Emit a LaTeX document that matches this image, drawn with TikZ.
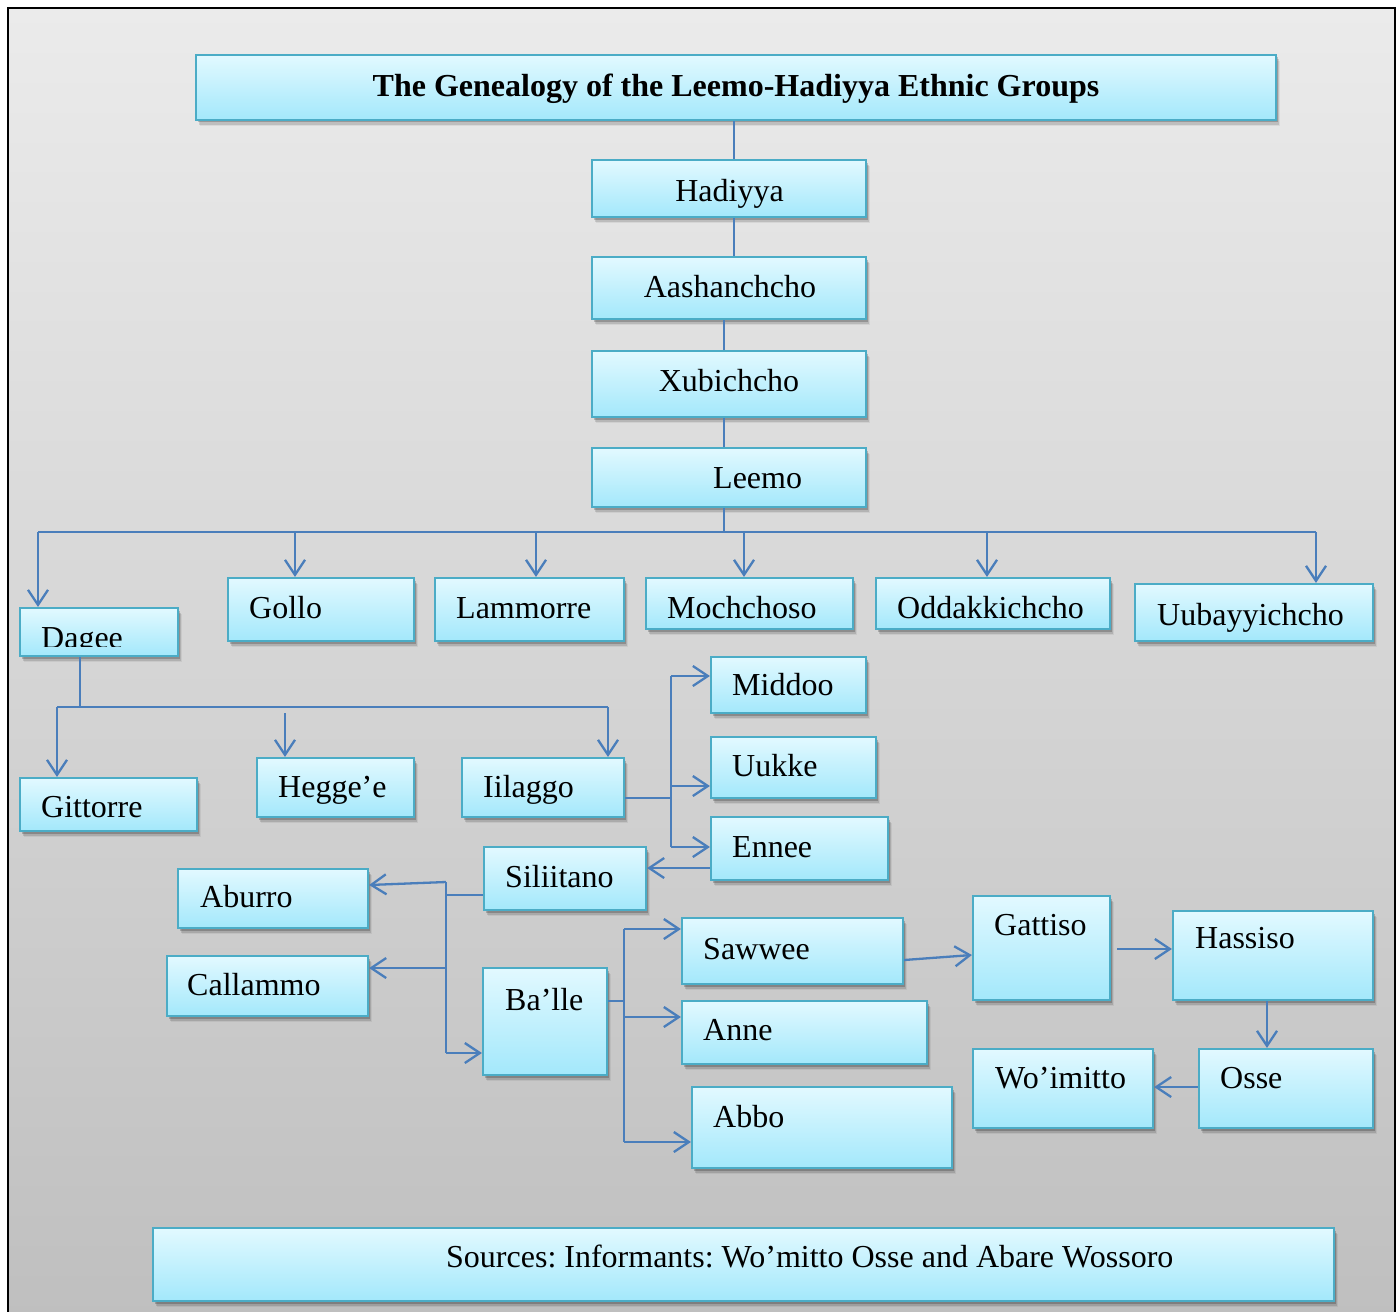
\documentclass[tikz,border=0pt]{standalone}
\usepackage{fontspec}
\setmainfont{Liberation Serif}
\usetikzlibrary{arrows.meta,shadows,fit}
\definecolor{bgtop}{HTML}{EBEBEB}
\definecolor{bgbot}{HTML}{BFBFBF}
\definecolor{boxtop}{HTML}{E2F9FF}
\definecolor{boxbot}{HTML}{A3E8FB}
\definecolor{boxline}{HTML}{4BACC6}
\definecolor{conn}{HTML}{4A7EBB}
\tikzset{
  box/.style={draw=boxline, line width=2.2pt, top color=boxtop, bottom color=boxbot, inner sep=0pt,
    drop shadow={shadow xshift=1.5pt, shadow yshift=-2.5pt, opacity=0.2, fill=black},
    drop shadow={shadow xshift=3pt, shadow yshift=-4.5pt, opacity=0.12, fill=black},
    drop shadow={shadow xshift=4pt, shadow yshift=-6pt, opacity=0.06, fill=black}},
  lbl/.style={inner sep=0pt, anchor=base west, font=\fontsize{32}{38}\selectfont},
  plain/.style={draw=conn, line width=1.7pt},
  arr/.style={draw=conn, line width=2.3pt, -{Straight Barb[length=15pt,width=20pt]}},
}
\newcommand\mybox[8]{%
  \node[box, fit={(#2,#3) (#4,#5)}] (#1) {};
  \node[lbl] (#1t) at (#6,#7) {#8};}
\begin{document}
\frenchspacing
\begin{tikzpicture}[x=1pt,y=-1pt]
\useasboundingbox (0,0) rectangle (1396,1311);
\clip (0,0) rectangle (1396,1311);
% background frame
\fill[top color=bgtop, bottom color=bgbot] (8,8) rectangle (1395,1320);
\draw[black, line width=2pt] (8,8) rectangle (1395,1320);

% title
\node[box, fit={(196,55) (1276,120)}] (title) {};
\node[lbl, anchor=base, font=\fontsize{32}{38}\selectfont\bfseries] (titlet) at (736,97) {The Genealogy of the Leemo-Hadiyya Ethnic Groups};

% main chain
\node[box, fit={(592,160) (866,217)}] (hadiyya) {};
\node[lbl, anchor=base] (hadiyyat) at (729.5,201) {Hadiyya};
\node[box, fit={(592,257) (866,319)}] (aash) {};
\node[lbl, anchor=base] (aasht) at (730,297) {Aashanchcho};
\node[box, fit={(592,351) (866,417)}] (xub) {};
\node[lbl, anchor=base] (xubt) at (729,391) {Xubichcho};
\mybox{leemo}{592}{448}{866}{507}{713}{488}{Leemo}

% level 2
\node[box, fit={(20,608) (178,656)}] (dagee) {};
\begin{scope}
  \clip (20,608) rectangle (178,646);
  \node[lbl] (dageet) at (41,648) {Dagee};
\end{scope}
\mybox{gollo}{228}{578}{414}{641}{249}{618}{Gollo}
\mybox{lammorre}{435}{578}{624}{641}{456}{618}{Lammorre}
\mybox{mochchoso}{646}{578}{853}{629}{667}{618}{Mochchoso}
\mybox{oddak}{876}{578}{1110}{629}{897}{618}{Oddakkichcho}
\mybox{uubay}{1135}{584}{1373}{641}{1157}{625}{Uubayyichcho}

% level 3
\mybox{gittorre}{20}{778}{197}{831}{41}{817}{Gittorre}
\mybox{hegge}{257}{758}{414}{817}{278}{797}{Hegge’e}
\mybox{iilaggo}{462}{758}{624}{817}{483}{797}{Iilaggo}
\mybox{middoo}{711}{657}{866}{713}{732}{695}{Middoo}
\mybox{uukke}{711}{737}{876}{798}{732}{776}{Uukke}
\mybox{ennee}{711}{817}{888}{880}{732}{857}{Ennee}
\mybox{siliitano}{484}{847}{646}{910}{505}{887}{Siliitano}
\mybox{aburro}{178}{869}{368}{928}{200}{907}{Aburro}
\mybox{callammo}{167}{956}{368}{1016}{187}{995}{Callammo}
\mybox{balle}{483}{968}{607}{1075}{505}{1010}{Ba’lle}
\mybox{sawwee}{682}{918}{903}{984}{703}{959}{Sawwee}
\mybox{anne}{682}{1001}{927}{1064}{703}{1040}{Anne}
\mybox{abbo}{692}{1087}{952}{1168}{713}{1127}{Abbo}
\mybox{gattiso}{973}{896}{1110}{1000}{994}{935}{Gattiso}
\mybox{hassiso}{1173}{911}{1373}{1000}{1195}{948}{Hassiso}
\mybox{osse}{1199}{1049}{1373}{1128}{1220}{1088}{Osse}
\mybox{woimitto}{973}{1049}{1153}{1128}{995}{1088}{Wo’imitto}
\mybox{sources}{153}{1228}{1334}{1301}{446}{1267}{Sources: Informants: Wo’mitto Osse and Abare Wossoro}

% coordinates for connector routing
\coordinate (k1) at (734,0);
\coordinate (k2) at (724,0);
\coordinate (bus) at (724,532);
\coordinate (busL) at (38,532);
\coordinate (busR) at (1316,532);
\coordinate (bG) at (295,532);
\coordinate (bL) at (536,532);
\coordinate (bM) at (744,532);
\coordinate (bO) at (987,532);

\draw[plain] (title.south -| k1) -- (hadiyya.north -| k1);
\draw[plain] (hadiyya.south -| k1) -- (aash.north -| k1);
\draw[plain] (aash.south -| k2) -- (xub.north -| k2);
\draw[plain] (xub.south -| k2) -- (leemo.north -| k2);
\draw[plain] (leemo.south -| k2) -- (bus);
\draw[plain] (busL) -- (busR);
\draw[arr] (busL) -- (dagee.north -| busL);
\draw[arr] (bG) -- (gollo.north -| bG);
\draw[arr] (bL) -- (lammorre.north -| bL);
\draw[arr] (bM) -- (mochchoso.north -| bM);
\draw[arr] (bO) -- (oddak.north -| bO);
\draw[arr] (busR) -- (uubay.north -| busR);

% Dagee children
\coordinate (d0) at (80,707);
\coordinate (dL) at (57,707);
\coordinate (dR) at (608,707);
\coordinate (dH) at (285,713);
\draw[plain] (dagee.south -| d0) -- (d0);
\draw[plain] (dL) -- (dR);
\draw[arr] (dL) -- (gittorre.north -| dL);
\draw[arr] (dH) -- (hegge.north -| dH);
\draw[arr] (dR) -- (iilaggo.north -| dR);

% Iilaggo children
\coordinate (i0) at (671,798);
\coordinate (iT) at (671,676);
\coordinate (iU) at (671,786);
\coordinate (iB) at (671,847);
\draw[plain] (iilaggo.east |- i0) -- (i0);
\draw[plain] (iT) -- (iB);
\draw[arr] (iT) -- (iT -| middoo.west);
\draw[arr] (iU) -- (iU -| uukke.west);
\draw[arr] (iB) -- (iB -| ennee.west);

% Ennee -> Siliitano
\coordinate (e0) at (0,868);
\draw[arr] (e0 -| ennee.west) -- (e0 -| siliitano.east);

% Siliitano children
\coordinate (s0) at (446,895);
\coordinate (sT) at (446,882);
\coordinate (sC) at (446,968);
\coordinate (sB) at (446,1053);
\coordinate (sA) at (370,885);
\draw[plain] (siliitano.west |- s0) -- (s0);
\draw[plain] (sT) -- (sB);
\draw[arr] (sT) -- (sA -| aburro.east);
\draw[arr] (sC) -- (sC -| callammo.east);
\draw[arr] (sB) -- (sB -| balle.west);

% Ba'lle children
\coordinate (b0) at (624,1001);
\coordinate (bT) at (624,929);
\coordinate (bA) at (624,1017);
\coordinate (bB) at (624,1142);
\draw[plain] (balle.east |- b0) -- (b0);
\draw[plain] (bT) -- (bB);
\draw[arr] (bT) -- (bT -| sawwee.west);
\draw[arr] (bA) -- (bA -| anne.west);
\draw[arr] (bB) -- (bB -| abbo.west);

% Sawwee -> Gattiso -> Hassiso -> Osse -> Wo'imitto
\coordinate (w1) at (0,960);
\coordinate (w2) at (0,955);
\coordinate (g0) at (1117,949);
\coordinate (h0) at (1267,0);
\coordinate (o0) at (0,1087);
\draw[arr] (w1 -| sawwee.east) -- (w2 -| gattiso.west);
\draw[arr] (g0) -- (g0 -| hassiso.west);
\draw[arr] (hassiso.south -| h0) -- (osse.north -| h0);
\draw[arr] (o0 -| osse.west) -- (o0 -| woimitto.east);
\end{tikzpicture}
\end{document}
